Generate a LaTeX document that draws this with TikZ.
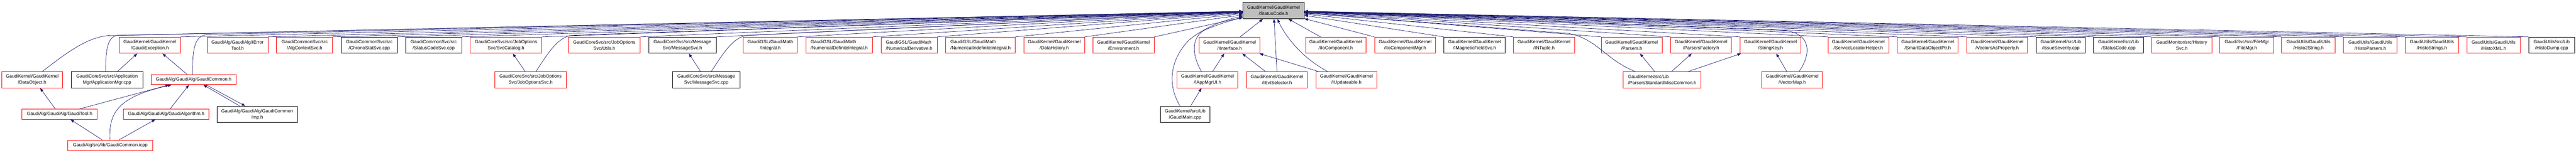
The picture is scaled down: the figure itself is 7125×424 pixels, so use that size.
\documentclass[tikz,border=0pt]{standalone}
\usepackage{fontspec}
\setmainfont{Liberation Sans}
\usetikzlibrary{arrows.meta}
\definecolor{navy}{HTML}{191970}
\definecolor{rootgray}{HTML}{BFBFBF}
\definecolor{redline}{HTML}{FF0000}
\begin{document}
\begin{tikzpicture}[x=1bp,y=-1bp,
  box/.style={rectangle, draw, line width=1.3bp, inner sep=0pt, align=center,
    font=\fontsize{12.8bp}{17bp}\selectfont, minimum height=45bp, fill=white},
  rbox/.style={box, draw=redline},
  kbox/.style={box, draw=black},
  root/.style={box, draw=black, fill=rootgray},
  edge/.style={draw=navy, line width=1bp, -{Triangle[length=10bp,width=7.5bp]}}]
\useasboundingbox (0,0) rectangle (7125,424);
% root
\node[root, minimum width=169bp] (sc) at (3522.5,29.5) {GaudiKernel/GaudiKernel\\/StatusCode.h};
% row 2
\node[rbox, minimum width=169bp] (gex) at (414.5,125.5) {GaudiKernel/GaudiKernel\\/GaudiException.h};
\node[rbox, minimum width=168bp] (iet) at (657,125.5) {GaudiAlg/GaudiAlg/IError\\Tool.h};
\node[rbox, minimum width=155bp] (acs) at (842.5,125.5) {GaudiCommonSvc/src\\/AlgContextSvc.h};
\node[kbox, minimum width=155bp] (css) at (1021.5,125.5) {GaudiCommonSvc/src\\/ChronoStatSvc.cpp};
\node[kbox, minimum width=155bp] (scs) at (1199.5,125.5) {GaudiCommonSvc/src\\/StatusCodeSvc.cpp};
\node[rbox, minimum width=199bp] (svc) at (1399.5,125.5) {GaudiCoreSvc/src/JobOptions\\Svc/SvcCatalog.h};
\node[rbox, minimum width=199bp] (utl) at (1671.5,125.5) {GaudiCoreSvc/src/JobOptions\\Svc/Utils.h};
\node[kbox, minimum width=187bp] (msh) at (1887.5,125.5) {GaudiCoreSvc/src/Message\\Svc/MessageSvc.h};
\node[rbox, minimum width=149bp] (int) at (2130.5,125.5) {GaudiGSL/GaudiMath\\/Integral.h};
\node[rbox, minimum width=184bp, align=left] (ndi) at (2321,125.5) {GaudiGSL/GaudiMath\\/NumericalDefiniteIntegral.h};
\node[rbox, minimum width=155bp, align=left] (nde) at (2514.5,125.5) {GaudiGSL/GaudiMath\\/NumericalDerivative.h};
\node[rbox, minimum width=192bp, align=left] (nii) at (2712,125.5) {GaudiGSL/GaudiMath\\/NumericalIndefiniteIntegral.h};
\node[rbox, minimum width=168bp] (dhi) at (2916,125.5) {GaudiKernel/GaudiKernel\\/DataHistory.h};
\node[rbox, minimum width=169bp] (env) at (3107.5,125.5) {GaudiKernel/GaudiKernel\\/Environment.h};
\node[rbox, minimum width=168bp] (iif) at (3401,125.5) {GaudiKernel/GaudiKernel\\/IInterface.h};
\node[rbox, minimum width=167bp] (iic) at (3694.5,125.5) {GaudiKernel/GaudiKernel\\/IIoComponent.h};
\node[rbox, minimum width=169bp] (icm) at (3886.5,125.5) {GaudiKernel/GaudiKernel\\/IIoComponentMgr.h};
\node[kbox, minimum width=169bp] (imf) at (4078.5,125.5) {GaudiKernel/GaudiKernel\\/IMagneticFieldSvc.h};
\node[rbox, minimum width=169bp] (ntu) at (4270.5,125.5) {GaudiKernel/GaudiKernel\\/INTuple.h};
\node[rbox, minimum width=168bp] (par) at (4513,125.5) {GaudiKernel/GaudiKernel\\/Parsers.h};
\node[rbox, minimum width=168bp] (pfa) at (4705,125.5) {GaudiKernel/GaudiKernel\\/ParsersFactory.h};
\node[rbox, minimum width=168bp] (skey) at (4897,125.5) {GaudiKernel/GaudiKernel\\/StringKey.h};
\node[rbox, minimum width=168bp] (slh) at (5140,125.5) {GaudiKernel/GaudiKernel\\/ServiceLocatorHelper.h};
\node[rbox, minimum width=168bp] (sdo) at (5332,125.5) {GaudiKernel/GaudiKernel\\/SmartDataObjectPtr.h};
\node[rbox, minimum width=168bp] (vap) at (5524,125.5) {GaudiKernel/GaudiKernel\\/VectorsAsProperty.h};
\node[kbox, minimum width=136bp] (iss) at (5700,125.5) {GaudiKernel/src/Lib\\/IssueSeverity.cpp};
\node[kbox, minimum width=137bp] (scc) at (5859.5,125.5) {GaudiKernel/src/Lib\\/StatusCode.cpp};
\node[rbox, minimum width=167bp] (hsv) at (6034.5,125.5) {GaudiMonitor/src/History\\Svc.h};
\node[rbox, minimum width=149bp] (fmg) at (6214.5,125.5) {GaudiSvc/src/FileMgr\\/FileMgr.h};
\node[rbox, minimum width=148bp] (h2s) at (6385,125.5) {GaudiUtils/GaudiUtils\\/Histo2String.h};
\node[rbox, minimum width=148bp] (hpa) at (6556,125.5) {GaudiUtils/GaudiUtils\\/HistoParsers.h};
\node[rbox, minimum width=149bp] (hst) at (6726.5,125.5) {GaudiUtils/GaudiUtils\\/HistoStrings.h};
\node[rbox, minimum width=148bp] (hxm) at (6897,125.5) {GaudiUtils/GaudiUtils\\/HistoXML.h};
\node[kbox, minimum width=127bp] (hdu) at (7057.5,125.5) {GaudiUtils/src/Lib\\/HistoDump.cpp};
% row 3
\node[rbox, minimum width=168bp] (dob) at (89,221.5) {GaudiKernel/GaudiKernel\\/DataObject.h};
\node[kbox, minimum width=198bp] (amg) at (296,221.5) {GaudiCoreSvc/src/Application\\Mgr/ApplicationMgr.cpp};
\node[rbox, minimum width=235bp, minimum height=28bp] (gch) at (535.5,221) {GaudiAlg/GaudiAlg/GaudiCommon.h};
\node[rbox, minimum width=199bp] (jos) at (1467.5,221.5) {GaudiCoreSvc/src/JobOptions\\Svc/JobOptionsSvc.h};
\node[kbox, minimum width=187bp] (msc) at (1953.5,221.5) {GaudiCoreSvc/src/Message\\Svc/MessageSvc.cpp};
\node[rbox, minimum width=168bp] (iam) at (3340,221.5) {GaudiKernel/GaudiKernel\\/IAppMgrUI.h};
\node[rbox, minimum width=168bp] (ies) at (3532,221.5) {GaudiKernel/GaudiKernel\\/IEvtSelector.h};
\node[rbox, minimum width=168bp] (iup) at (3724,221.5) {GaudiKernel/GaudiKernel\\/IUpdateable.h};
\node[rbox, minimum width=215bp, align=left] (psm) at (4597.5,221.5) {GaudiKernel/src/Lib\\/ParsersStandardMiscCommon.h};
\node[rbox, minimum width=168bp] (vmp) at (4957,221.5) {GaudiKernel/GaudiKernel\\/VectorMap.h};
% row 4
\node[rbox, minimum width=208bp, minimum height=28bp] (gto) at (165,317) {GaudiAlg/GaudiAlg/GaudiTool.h};
\node[rbox, minimum width=237bp, minimum height=28bp] (gal) at (459.5,317) {GaudiAlg/GaudiAlg/GaudiAlgorithm.h};
\node[kbox, minimum width=223bp] (gci) at (711.5,317.5) {GaudiAlg/GaudiAlg/GaudiCommon\\Imp.h};
\node[kbox, minimum width=136bp] (gmn) at (3278,317.5) {GaudiKernel/src/Lib\\/GaudiMain.cpp};
% row 5
\node[rbox, minimum width=234bp, minimum height=29bp] (gic) at (305,403.5) {GaudiAlg/src/lib/GaudiCommon.icpp};

% edges row 2 -> root
\foreach \n in {gex,iet,acs,css,scs,svc,utl,msh,int,ndi,nde,nii,dhi,env}
  \draw[edge] (\n.north east) -- (sc);
\foreach \n in {icm,imf,ntu,par,pfa,skey,slh,sdo,vap,iss,scc,hsv,fmg,h2s,hpa,hst,hxm,hdu}
  \draw[edge] (\n.north west) -- (sc);
\draw[edge] ([xshift=29bp]iif.north) -- (sc);
\draw[edge] ([xshift=-42bp]iic.north) -- (sc);
% curves row 3 -> root
\draw[edge] ([xshift=28bp]dob.north) .. controls (180,150) and (240,103) .. (300,99) -- (sc);
\draw[edge] ([xshift=-4bp]amg.north) .. controls (292,130) and (300,102) .. (325,98) -- (sc);
\draw[edge] ([xshift=-3bp]gch.north) .. controls (532,130) and (540,100) .. (572,96) -- (sc);
\draw[edge] ([xshift=15bp]jos.north) .. controls (1520,140) and (1545,103) .. (1582,98) -- (sc);
\draw[edge] ([xshift=14bp]msc.north) .. controls (2005,140) and (2030,103) .. (2067,98) -- (sc);
\draw[edge] ([xshift=-14bp]gmn.north) .. controls (3225,230) and (3240,160) .. (3290,110) .. controls (3340,70) and (3400,52) .. (sc);
\draw[edge] ([xshift=-17bp]iam.north) .. controls (3295,150) and (3295,100) .. (3335,82) .. controls (3370,67) and (3410,55) .. (sc);
\draw[edge] ([xshift=-52bp]iup.north) .. controls (3600,160) and (3555,100) .. (sc);
\draw[edge] (ies.north) -- (sc);
\draw[edge] ([xshift=-75bp]psm.north) .. controls (4440,165) and (4420,110) .. (4340,93) -- (sc);
\draw[edge] ([xshift=19bp]vmp.north) .. controls (5010,150) and (5010,95) .. (4940,85) -- (sc);
% other edges
\draw[edge] ([xshift=29bp]amg.north) -- ([xshift=-35bp]gex.south);
\draw[edge] ([xshift=-18bp]gch.north) -- ([xshift=35bp]gex.south);
\draw[edge] ([xshift=-12bp]gto.north) -- ([xshift=22bp]dob.south);
\draw[edge] ([xshift=55bp]gto.north) -- ([xshift=-68bp]gch.south);
\draw[edge] ([xshift=-1bp]gic.north) .. controls (300,310) and (330,268) .. ([xshift=-61bp]gch.south);
\draw[edge] ([xshift=-22bp]gic.north) -- ([xshift=30bp]gto.south);
\draw[edge] ([xshift=24bp]gic.north) -- ([xshift=-30bp]gal.south);
\draw[edge] ([xshift=11bp]gal.north) -- ([xshift=-13bp]gch.south);
\draw[edge] ([xshift=-48bp]gci.north) -- ([xshift=27bp]gch.south);
\draw[edge] ([xshift=35bp]gch.south) -- ([xshift=-33bp]gci.north);
\draw[edge] ([xshift=-15bp]jos.north) -- ([xshift=19bp]svc.south);
\draw[edge] ([xshift=-16bp]msc.north) -- ([xshift=18bp]msh.south);
\draw[edge] ([xshift=14bp]iam.north) -- ([xshift=-15bp]iif.south);
\draw[edge] ([xshift=15bp]gmn.north) -- ([xshift=-17bp]iam.south);
\draw[edge] ([xshift=-32bp]ies.north) -- ([xshift=35bp]iif.south);
\draw[edge] ([xshift=-77bp]iup.north) -- ([xshift=-2bp]iif.south east);
\draw[edge] ([xshift=-21bp]psm.north) -- ([xshift=23bp]par.south);
\draw[edge] ([xshift=26bp]psm.north) -- ([xshift=-26bp]pfa.south);
\draw[edge] ([xshift=72bp]psm.north) -- ([xshift=3bp]skey.south west);
\draw[edge] ([xshift=-15bp]vmp.north) -- ([xshift=16bp]skey.south);
\end{tikzpicture}
\end{document}
